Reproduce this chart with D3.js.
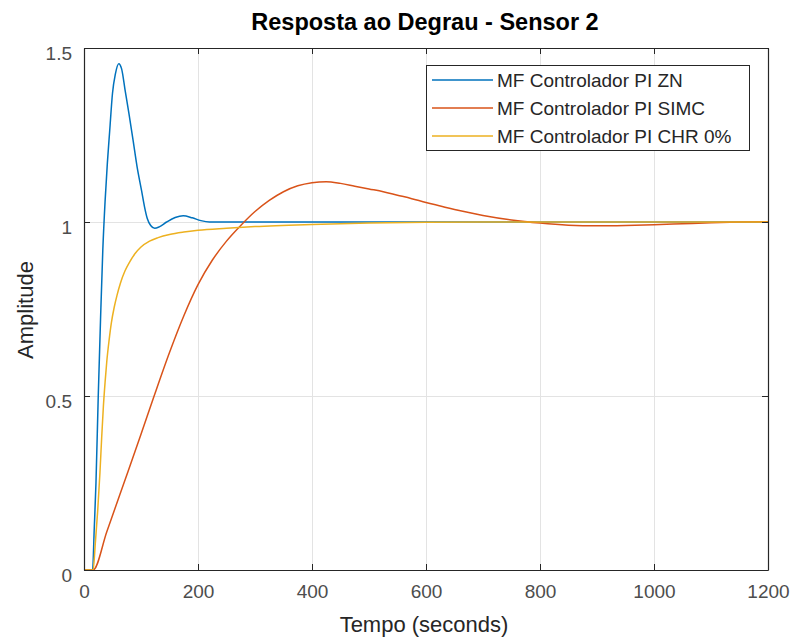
<!DOCTYPE html>
<html>
<head>
<meta charset="utf-8">
<script src="https://cdn.jsdelivr.net/npm/d3@7/dist/d3.min.js"></script>
<style>
  html, body { margin: 0; padding: 0; background: #fff; }
  svg { display: block; }
  text { font-family: "Liberation Sans", Arial, Helvetica, sans-serif; }
</style>
</head>
<body>
<svg id="chart" width="792" height="639"></svg>
<script>
// ---- Data ----
const chartTitle = "Resposta ao Degrau - Sensor 2";
const xLabel = "Tempo (seconds)";
const yLabel = "Amplitude";
const seriesNames = ["MF Controlador PI ZN", "MF Controlador PI SIMC", "MF Controlador PI CHR 0%"];
const xTicks = [0, 200, 400, 600, 800, 1000, 1200];
const yTicks = [0, 0.5, 1, 1.5];
const yTickLabels = ["0", "0.5", "1", "1.5"];

const tZN = [0, 15, 18, 21, 25, 29, 33, 37, 41, 45, 50, 55, 61, 66, 72, 79, 86, 93, 101, 106, 111, 117, 124, 132, 145, 160, 174, 190, 205, 220, 260, 400, 600, 800, 1000, 1200];
const yZN = [0, 0, 0.12, 0.25, 0.5, 0.72, 0.92, 1.06, 1.17, 1.26, 1.37, 1.425, 1.455, 1.44, 1.38, 1.31, 1.236, 1.16, 1.09, 1.045, 1.01, 0.99, 0.982, 0.986, 1.0, 1.013, 1.018, 1.012, 1.004, 1.0, 1.0, 1.0, 1.0, 1.0, 1.0, 1.0];

const tSIMC = [0, 16, 40, 69, 100, 123, 150, 175, 200, 225, 250, 275, 300, 325, 350, 375, 400, 425, 450, 475, 500, 525, 550, 575, 600, 625, 650, 675, 700, 750, 800, 850, 900, 950, 1000, 1050, 1100, 1150, 1200];
const ySIMC = [0, 0, 0.11, 0.245, 0.39, 0.5, 0.625, 0.73, 0.82, 0.89, 0.945, 0.99, 1.03, 1.062, 1.087, 1.104, 1.113, 1.116, 1.111, 1.103, 1.095, 1.087, 1.077, 1.067, 1.056, 1.046, 1.036, 1.027, 1.019, 1.006, 0.997, 0.991, 0.989, 0.99, 0.992, 0.995, 0.998, 1.0, 1.001];

const tCHR = [0, 16, 20, 24, 28, 31, 34, 37, 40, 44, 48, 53, 58, 64, 72, 80, 90, 100, 115, 130, 150, 175, 200, 250, 300, 400, 500, 600, 700, 1200];
const yCHR = [0, 0, 0.08, 0.17, 0.28, 0.38, 0.47, 0.54, 0.6, 0.66, 0.71, 0.755, 0.79, 0.825, 0.86, 0.885, 0.91, 0.928, 0.945, 0.955, 0.964, 0.971, 0.976, 0.982, 0.987, 0.993, 0.997, 0.999, 1.0, 1.0];

const seriesColors = ["#0072BD", "#D95319", "#EDB120"];

// ---- Layout ----
const svg = d3.select("#chart");
const plot = { left: 84, right: 768, top: 48, bottom: 570 };
const x = d3.scaleLinear().domain([0, 1200]).range([plot.left, plot.right]);
const y = d3.scaleLinear().domain([0, 1.5]).range([plot.bottom, plot.top]);

svg.append("rect").attr("width", 792).attr("height", 639).attr("fill", "#fff");

// grid
const grid = svg.append("g").attr("stroke", "#e3e3e3").attr("stroke-width", 1);
xTicks.filter(d => d > 0 && d < 1200).forEach(d => {
  grid.append("line").attr("x1", Math.round(x(d)) + 0.5).attr("x2", Math.round(x(d)) + 0.5)
    .attr("y1", plot.top).attr("y2", plot.bottom);
});
yTicks.filter(d => d > 0 && d < 1.5).forEach(d => {
  grid.append("line").attr("y1", Math.round(y(d)) + 0.5).attr("y2", Math.round(y(d)) + 0.5)
    .attr("x1", plot.left).attr("x2", plot.right);
});

// clip
svg.append("clipPath").attr("id", "clip").append("rect")
  .attr("x", plot.left).attr("y", plot.top)
  .attr("width", plot.right - plot.left).attr("height", plot.bottom - plot.top);

const line = d3.line().x(d => x(d[0])).y(d => y(d[1])).curve(d3.curveMonotoneX);
const allSeries = [
  d3.zip(tZN, yZN),
  d3.zip(tSIMC, ySIMC),
  d3.zip(tCHR, yCHR)
];
const lines = svg.append("g").attr("clip-path", "url(#clip)");
allSeries.forEach((s, i) => {
  lines.append("path").datum(s).attr("d", line)
    .attr("fill", "none").attr("stroke", seriesColors[i]).attr("stroke-width", 1.5)
    .attr("stroke-linejoin", "round");
});

// axes (box with inward ticks)
const axisColor = "#262626";
const tickLen = 6;
const xAxisB = d3.axisBottom(x).tickValues(xTicks).tickSizeInner(-tickLen).tickSizeOuter(0).tickPadding(15).tickFormat(d3.format("d"));
const xAxisT = d3.axisTop(x).tickValues(xTicks).tickSizeInner(-tickLen).tickSizeOuter(0).tickFormat("");
const yAxisL = d3.axisLeft(y).tickValues(yTicks).tickSizeInner(-tickLen).tickSizeOuter(0).tickPadding(12).tickFormat((d, i) => yTickLabels[i]);
const yAxisR = d3.axisRight(y).tickValues(yTicks).tickSizeInner(-tickLen).tickSizeOuter(0).tickFormat("");

function styleAxis(g) {
  g.select(".domain").attr("stroke", axisColor).attr("stroke-width", 1.2);
  g.selectAll(".tick line").attr("stroke", axisColor).attr("stroke-width", 1);
  g.selectAll(".tick text").attr("fill", "#4d4d4d").style("font-size", "19px")
    .style("font-family", '"Liberation Sans", Arial, Helvetica, sans-serif');
}
svg.append("g").attr("transform", `translate(0,${plot.bottom})`).call(xAxisB).call(styleAxis);
svg.append("g").attr("transform", `translate(0,${plot.top})`).call(xAxisT).call(styleAxis);
svg.append("g").attr("transform", `translate(${plot.left},0)`).call(yAxisL).call(styleAxis)
  .selectAll(".tick text").attr("dy", "0.62em");
svg.append("g").attr("transform", `translate(${plot.right},0)`).call(yAxisR).call(styleAxis);

// title & labels
svg.append("text").attr("x", 425).attr("y", 30).attr("text-anchor", "middle")
  .attr("font-weight", "bold").attr("font-size", 23.5).attr("fill", "#000").text(chartTitle);
svg.append("text").attr("x", 424).attr("y", 632).attr("text-anchor", "middle")
  .attr("font-size", 22).attr("fill", "#262626").text(xLabel);
svg.append("text").attr("transform", "translate(33,310) rotate(-90)").attr("text-anchor", "middle")
  .attr("font-size", 22).attr("fill", "#262626").text(yLabel);

// legend
const legend = svg.append("g");
legend.append("rect").attr("x", 426.5).attr("y", 65.5).attr("width", 323).attr("height", 85)
  .attr("fill", "#fff").attr("stroke", axisColor).attr("stroke-width", 1);
const rowY = [80, 108, 136];
seriesNames.forEach((name, i) => {
  legend.append("line").attr("x1", 432).attr("x2", 493).attr("y1", rowY[i]).attr("y2", rowY[i])
    .attr("stroke", seriesColors[i]).attr("stroke-width", 1.5);
  legend.append("text").attr("x", 497).attr("y", rowY[i]).attr("dy", "0.36em")
    .attr("font-size", 19).attr("fill", "#262626").text(name);
});
</script>
</body>
</html>
